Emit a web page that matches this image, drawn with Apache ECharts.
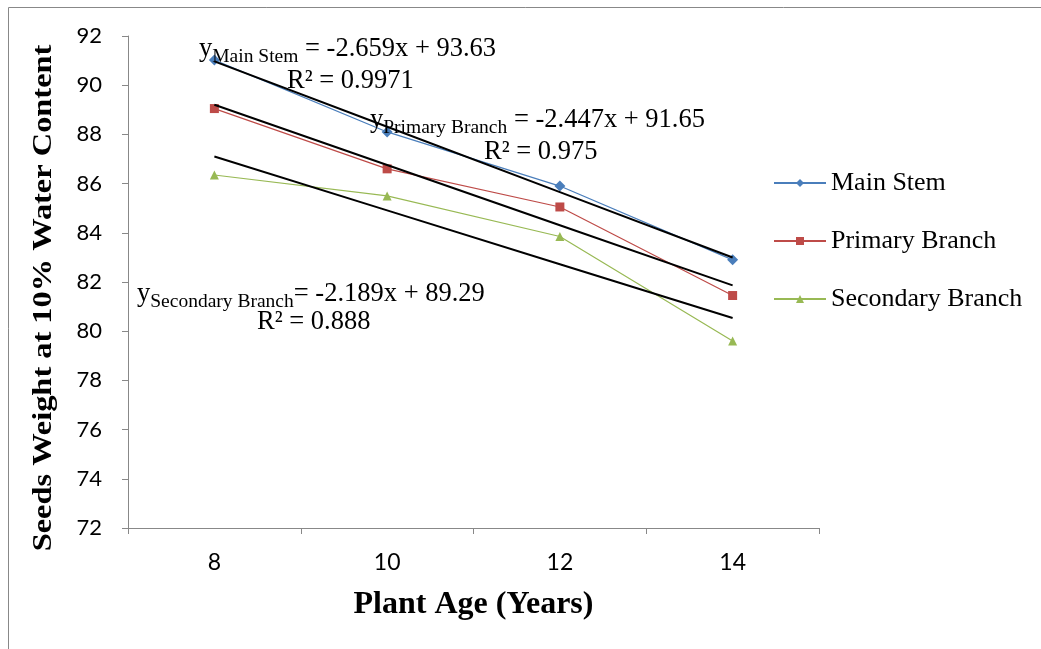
<!DOCTYPE html>
<html><head><meta charset="utf-8">
<script src="https://cdn.jsdelivr.net/npm/echarts@6/dist/echarts.min.js"></script>
<style>html,body{margin:0;padding:0;background:#fff}#c{width:1041px;height:649px}</style>
</head><body><div id="c"></div>
<script>
const categories = ['8', '10', '12', '14'];
const mainStem = [91.02, 88.10, 85.90, 82.90];
const primaryBranch = [89.05, 86.60, 85.05, 81.45];
const secondaryBranch = [86.35, 85.50, 83.85, 79.60];
// Trend line coefficients as printed on the chart (x = category index 1..4)
const slopes = [-2.659, -2.447, -2.189];
const intercepts = [93.63, 91.65, 89.29];
const r2 = ['0.9971', '0.975', '0.888'];
const seriesNames = ['Main Stem', 'Primary Branch', 'Secondary Branch'];
const yTicks = [72, 74, 76, 78, 80, 82, 84, 86, 88, 90, 92];

const trend = (i) => categories.map((c, k) => +(slopes[i] * (k + 1) + intercepts[i]).toFixed(3));

const chart = echarts.init(document.getElementById('c'), null, {renderer: 'canvas'});
const serif = '"Liberation Serif", "Times New Roman", serif';
const eqRich = {
  a: {fontFamily: serif, fontSize: 26.5, color: '#000'},
  s: {fontFamily: serif, fontSize: 19.5, color: '#000', padding: [14, 0, 0, 0]}
};
function eqText(x, y, name, i) {
  return {type: 'text', left: x, top: y, z: 10,
    style: {text: '{a|y}{s|' + name + '}{a|' + (i === 2 ? '' : ' ') + '= ' + slopes[i] + 'x + ' + intercepts[i] + '}', rich: eqRich}};
}
function r2Text(x, y, i) {
  return {type: 'text', left: x, top: y, z: 10,
    style: {text: 'R² = ' + r2[i], fontFamily: serif, fontSize: 26.5, fill: '#000'}};
}
const colors = ['#4A7EBB', '#BE4B48', '#98B954'];
const symbols = ['diamond', 'rect', 'triangle'];
const symSizes = [11, 9, 9];
const dataSets = [mainStem, primaryBranch, secondaryBranch];

const series = [];
[0, 1, 2].forEach(i => {
  series.push({
    name: 'trend' + i, type: 'line', data: trend(i), symbol: 'none', silent: true,
    lineStyle: {color: '#000', width: 2}, z: 3, animation: false
  });
});
[0, 1, 2].forEach(i => {
  series.push({
    name: seriesNames[i], type: 'line', data: dataSets[i],
    symbol: symbols[i], symbolSize: symSizes[i],
    itemStyle: {color: colors[i]}, lineStyle: {color: colors[i], width: 1.2}, z: 2, animation: false
  });
});

chart.setOption({
  animation: false,
  grid: {left: 128, right: 222, top: 36, bottom: 121, containLabel: false},
  legend: {
    data: seriesNames, orient: 'vertical', left: 773, top: 170, padding: 0,
    itemWidth: 52, itemHeight: 10, itemGap: 32,
    textStyle: {fontFamily: serif, fontSize: 26, lineHeight: 26, color: '#000'}
  },
  xAxis: {
    type: 'category', data: categories, boundaryGap: true,
    axisLine: {lineStyle: {color: '#888', width: 1}},
    axisTick: {show: true, length: 6, lineStyle: {color: '#888'}},
    axisLabel: {fontFamily: 'Lato', fontSize: 23, color: '#000', margin: 23},
    name: 'Plant Age (Years)', nameLocation: 'middle', nameGap: 61,
    nameTextStyle: {fontFamily: serif, fontSize: 32, fontWeight: 'bold', color: '#000'}
  },
  yAxis: {
    type: 'value', min: 72, max: 92, interval: 2,
    axisLine: {show: true, lineStyle: {color: '#888', width: 1}},
    axisTick: {show: true, length: 6, lineStyle: {color: '#888'}},
    splitLine: {show: false},
    axisLabel: {fontFamily: 'Lato', fontSize: 22, color: '#000', margin: 26}
  },
  graphic: [
    {type: 'rect', shape: {x: 8.5, y: 7.5, width: 1100, height: 700}, style: {fill: 'none', stroke: '#888', lineWidth: 1}, z: 0, silent: true},
    {type: 'text', x: 44, y: 298, rotation: Math.PI / 2, scaleX: 1.2, z: 10,
      style: {text: 'Seeds Weight at 10% Water Content', fontFamily: serif, fontSize: 27, fontWeight: 'bold',
        fill: '#000', align: 'center', verticalAlign: 'middle'}},
    eqText(199, 36, 'Main Stem', 0),
    r2Text(287, 68, 0),
    eqText(370, 107, 'Primary Branch', 1),
    r2Text(484, 139, 1),
    eqText(137, 281, 'Secondary Branch', 2),
    r2Text(257, 309, 2)
  ],
  series: series
});
</script></body></html>
